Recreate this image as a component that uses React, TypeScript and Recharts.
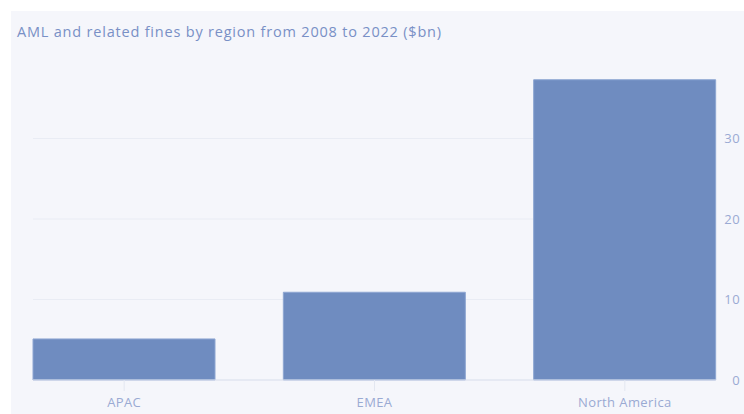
import React from "react";
import { BarChart, Bar, XAxis, YAxis, CartesianGrid } from "recharts";

const regions = ["APAC", "EMEA", "North America"];
const fines = [5.1, 10.9, 37.3];
const yTicks = [0, 10, 20, 30];
const title = "AML and related fines by region from 2008 to 2022 ($bn)";

const data = regions.map((r, i) => ({ region: r, fines: fines[i] }));

const FONT = "'Open Sans', sans-serif";
const LABEL = "#9aaad3";

const YTick = (props: any) => {
  const { x, y, payload } = props;
  return (
    <text x={x + 16} y={y} dy={4.5} textAnchor="end" fill={LABEL} fontSize={13} fontFamily={FONT} letterSpacing={0.4}>
      {payload.value}
    </text>
  );
};

const GridLine = (p: any) => {
  if (Math.abs(p.y1 - p.y) < 1) return <g />;
  return <line x1={p.x1} x2={p.x2} y1={p.y1} y2={p.y2} stroke="#e9ecf4" strokeWidth={1} />;
};

export default function App() {
  return (
    <div style={{ position: "absolute", left: 0, top: 0, width: 744, height: 414, background: "#ffffff" }}>
      <div style={{ position: "absolute", left: 11, top: 11, width: 733, height: 403, background: "#f5f6fb" }} />
      <div
        style={{
          position: "absolute",
          left: 17,
          top: 22,
          fontFamily: FONT,
          fontSize: 14.5,
          letterSpacing: 0.8,
          color: "#7990c6",
          whiteSpace: "nowrap",
        }}
      >
        {title}
      </div>
      <div style={{ position: "absolute", left: 0, top: 0 }}>
        <BarChart
          width={744}
          height={414}
          data={data}
          margin={{ top: 58, right: 0, left: 33, bottom: 0 }}
          barCategoryGap={34}
        >
          <CartesianGrid vertical={false} horizontal={GridLine} />
          <XAxis
            dataKey="region"
            height={34}
            padding={{ left: -34, right: -34 }}
            axisLine={{ stroke: "#dde2ef" }}
            tickLine={{ stroke: "#e3e7f1" }}
            tickSize={11}
            tick={{ fill: LABEL, fontSize: 13, fontFamily: FONT, letterSpacing: 0.4 }}
            tickMargin={7}
          />
          <YAxis
            orientation="right"
            width={28}
            domain={[0, 40]}
            ticks={yTicks}
            axisLine={false}
            tickLine={false}
            tick={<YTick />}
          />
          <Bar dataKey="fines" fill="#6f8cc0" stroke="#8ea6d2" strokeWidth={1} isAnimationActive={false} />
        </BarChart>
      </div>
    </div>
  );
}
